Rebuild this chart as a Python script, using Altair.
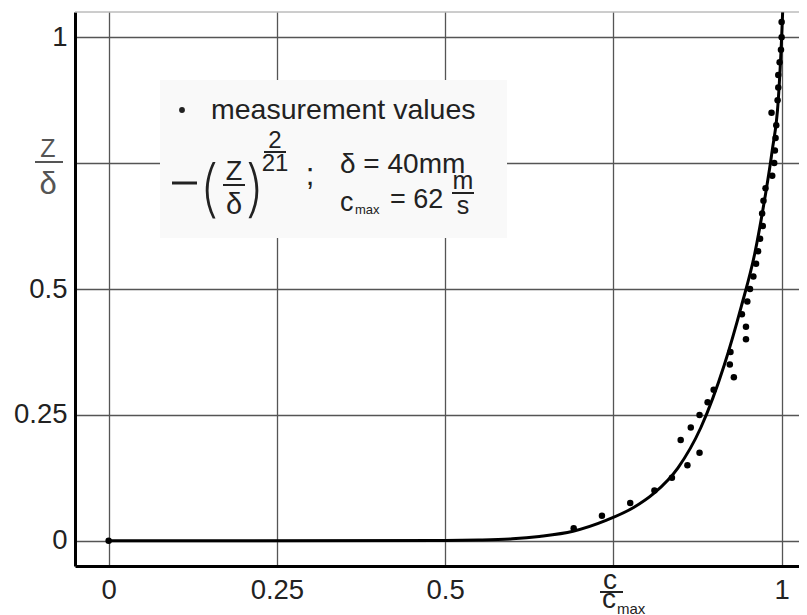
import altair as alt
import pandas as pd

# ---------------- data ----------------
tick_values = [0, 0.25, 0.5, 0.75, 1]

meas_c = [0.0, 0.691, 0.733, 0.775, 0.811, 0.837, 0.860, 0.878, 0.850, 0.865, 0.878,
          0.890, 0.899, 0.929, 0.923, 0.924, 0.947, 0.947, 0.941, 0.949, 0.953,
          0.958, 0.962, 0.965, 0.968, 0.972, 0.971, 0.973, 0.976, 0.986, 0.989,
          0.990, 0.991, 0.992, 0.985, 0.994, 0.995, 0.995, 0.997, 0.999, 1.0, 1.0]
meas_z = [0.0, 0.025, 0.05, 0.075, 0.10, 0.125, 0.15, 0.175, 0.20, 0.225, 0.25,
          0.275, 0.30, 0.325, 0.35, 0.375, 0.40, 0.425, 0.45, 0.475, 0.50,
          0.525, 0.55, 0.575, 0.60, 0.625, 0.65, 0.675, 0.70, 0.725, 0.75,
          0.775, 0.80, 0.825, 0.85, 0.875, 0.90, 0.925, 0.95, 0.975, 1.0, 1.03]

curve_c = [0.0, 0.5, 0.55, 0.60, 0.64, 0.69, 0.74, 0.78, 0.81, 0.846, 0.88,
           0.915, 0.94, 0.96, 0.975, 0.986, 0.995, 1.0, 1.0015]
curve_z = [0.0, 0.0006, 0.0015, 0.004, 0.0088, 0.019, 0.041, 0.066, 0.094, 0.145, 0.225,
           0.35, 0.465, 0.57, 0.68, 0.775, 0.875, 1.0, 1.05]

meas_df = pd.DataFrame({"c": meas_c, "z": meas_z})
curve_df = pd.DataFrame({"c": curve_c, "z": curve_z})

FONT = "Liberation Sans"
X0, Y0 = 75, 12          # page position of the plot area's top-left corner
W, H = 724, 554

xs = alt.Scale(domain=[-0.05, 1.0258], nice=False, zero=False)
ys = alt.Scale(domain=[-0.05, 1.05], nice=False, zero=False)

axis_common = dict(
    values=tick_values, title=None, ticks=False,
    domainColor="black", domainWidth=3,
    grid=True, gridColor="#555555", gridWidth=1.3,
    labelFont=FONT, labelFontSize=27.5, labelColor="#222222",
    labelExpr="datum.value == 0.75 ? '' : format(datum.value, '.2~f')",
    labelOverlap=False, labelFlush=False,
)

line = alt.Chart(curve_df).mark_line(color="black", strokeWidth=3, interpolate="monotone", clip=True).encode(
    x=alt.X("c:Q", scale=xs, axis=alt.Axis(labelPadding=10, **axis_common)),
    y=alt.Y("z:Q", scale=ys, axis=alt.Axis(labelPadding=8, **axis_common)),
)

points = alt.Chart(meas_df).mark_circle(size=42, color="black", opacity=1).encode(
    x=alt.X("c:Q", scale=xs), y=alt.Y("z:Q", scale=ys)
)

one = pd.DataFrame({"t": [""]})


def txt(s, x, y, size, align="left", color="#222222", font=FONT, weight="normal"):
    return alt.Chart(pd.DataFrame({"t": [s]})).mark_text(
        font=font, fontSize=size, align=align, baseline="alphabetic", color=color,
        fontWeight=weight,
    ).encode(x=alt.value(x - X0), y=alt.value(y - Y0), text="t:N")


def bar(xa, xb, y, color="#222222", w=2):
    return alt.Chart(one).mark_rule(color=color, strokeWidth=w).encode(
        x=alt.value(xa - X0), x2=alt.value(xb - X0), y=alt.value(y - Y0)
    )


top_rule = alt.Chart(one).mark_rule(color="#9a9a9a", strokeWidth=1).encode(
    x=alt.value(0), x2=alt.value(W), y=alt.value(0)
)

box = alt.Chart(one).mark_rect(fill="#f9f9f9").encode(
    x=alt.value(160 - X0), x2=alt.value(507 - X0), y=alt.value(80 - Y0), y2=alt.value(238 - Y0)
)

bullet = alt.Chart(one).mark_circle(size=34, color="#222222", opacity=1).encode(
    x=alt.value(182 - X0), y=alt.value(110 - Y0)
)

annotations = [
    txt("measurement values", 211, 119, 28.5),
    bar(172, 197, 183, w=3),
    txt("(", 209, 210, 62, "center", font="Inter", weight=200),
    txt(")", 255, 210, 62, "center", font="Inter", weight=200),
    txt("Z", 234, 180, 27, "center"),
    bar(223, 245, 185),
    txt("\u03b4", 234, 214, 29, "center"),
    txt("2", 275, 148, 24, "center"),
    bar(264, 286, 152),
    txt("21", 275, 171, 24, "center"),
    txt(";", 310, 185, 31, "center"),
    txt("\u03b4 = 40mm", 340, 173, 28),
    txt("c", 340, 211, 27),
    txt("max", 355, 214, 13),
    txt("= 62", 390, 208, 27),
    txt("m", 463, 189, 25, "center"),
    bar(452, 474, 193),
    txt("s", 463, 214, 25, "center"),
    # y-axis fraction label at 0.75
    txt("Z", 48, 157, 25, "center", "#555555"),
    bar(35, 63, 162, "#555555"),
    txt("\u03b4", 48, 194, 31, "center", "#555555"),
    # x-axis fraction label at 0.75
    txt("c", 610, 589, 28, "center"),
    bar(600, 623, 592),
    txt("c", 609, 608, 28, "center"),
    txt("max", 617, 614, 15),
]

chart = alt.layer(box, line, points, top_rule, bullet, *annotations).properties(
    width=W, height=H, autosize="none",
    padding={"left": X0 - 8, "top": Y0 - 8, "right": 0, "bottom": 52},
    background="white",
).configure_view(stroke=None)

chart.save("out.html", embed_options={"renderer": "svg", "actions": False})
